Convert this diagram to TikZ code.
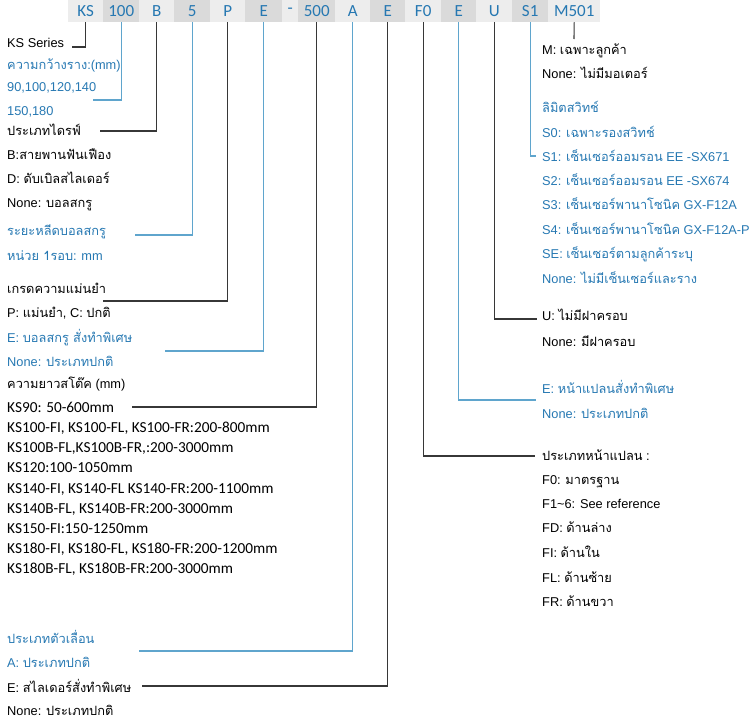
\documentclass[tikz,border=0pt]{standalone}
\usepackage{fontspec}
\setmainfont{Carlito}
\newfontfamily\thaifont[Script=Thai]{Loma}
\newfontfamily\arialfont{Liberation Sans}
\usetikzlibrary{positioning}
\definecolor{codeblue}{RGB}{38,120,178}
\definecolor{lineblue}{RGB}{95,165,205}
\definecolor{linegrey}{RGB}{55,55,55}
\definecolor{cellpale}{RGB}{237,237,237}
\definecolor{celldark}{RGB}{218,218,218}
\newcommand{\tha}[1]{{\thaifont #1}}
\tikzset{
  cell/.style={anchor=north west, minimum height=22pt, inner sep=0pt, font=\fontsize{17}{19}\selectfont, text=codeblue},
  lab/.style={anchor=base west, inner sep=0pt, font=\arialfont\fontsize{12.8}{15}\selectfont, text=black},
  labb/.style={lab, text=codeblue},
  lenlab/.style={anchor=base west, inner sep=0pt, font=\fontsize{15.3}{18}\selectfont, text=black},
  lead/.style={draw=linegrey, line width=1.1pt},
  leadb/.style={draw=lineblue, line width=1.1pt},
}

\begin{document}
\begin{tikzpicture}[x=1pt,y=-1pt]
  \useasboundingbox (0,0) rectangle (750,723);
  % code bar
  \foreach \nm/\code/\xa/\w/\shade in {ks/KS/68/35/cellpale, wid/100/103/36/celldark, drv/B/139/35/cellpale,
      ld/5/174/36/celldark, grd/P/210/35/cellpale, bs/E/245/37/celldark, dsh/-/282/16/cellpale,
      str/500/298/37/celldark, sld/A/335/35/cellpale, spc/E/370/35/celldark, fln/F0/405/36/cellpale,
      fle/E/441/35/celldark, cov/U/476/36/cellpale, sw/S1/512/36/celldark, mot/M501/548/52/cellpale}
    \node[cell, fill=\shade, minimum width=\w pt] (h\nm) at (\xa,0) {\code};

  % left column
  \node[lab]  (kss)  at (7,47)  {KS Series};
  \node[labb] (widt) at (7,69)  {\tha{ความกว้างราง}:(mm)};
  \node[labb] (wida) at (7,91)  {90,100,120,140};
  \node[labb] (widb) at (7,115) {150,180};
  \node[lab]  (drvt) at (7,135) {\tha{ประเภทไดรฟ์}};
  \node[lab]  (drvb) at (7,159) {B:\tha{สายพานฟันเฟือง}};
  \node[lab]  (drvd) at (7,183) {D: \tha{ดับเบิลสไลเดอร์}};
  \node[lab]  (drvn) at (7,207) {None: \tha{บอลสกรู}};
  \node[labb] (ldt)  at (7,235) {\tha{ระยะหลีดบอลสกรู}};
  \node[labb] (ldu)  at (7,260) {\tha{หน่วย 1รอบ}: mm};
  \node[lab]  (grdt) at (7,293) {\tha{เกรดความแม่นยำ}};
  \node[lab]  (grdp) at (7,317) {P: \tha{แม่นยำ}, C: \tha{ปกติ}};
  \node[labb] (bse)  at (7,342) {E: \tha{บอลสกรู สั่งทำพิเศษ}};
  \node[labb] (bsn)  at (7,366) {None: \tha{ประเภทปกติ}};
  \node[lab]  (strt) at (7,388) {\tha{ความยาวสโต๊ค} (mm)};
  \node[lenlab] (str1) at (7,412) {KS90: 50-600mm};
  \node[lenlab] (str2) at (7,432) {KS100-FI, KS100-FL, KS100-FR:200-800mm};
  \node[lenlab] (str3) at (7,452) {KS100B-FL,KS100B-FR,:200-3000mm};
  \node[lenlab] (str4) at (7,472) {KS120:100-1050mm};
  \node[lenlab] (str5) at (7,493) {KS140-FI, KS140-FL KS140-FR:200-1100mm};
  \node[lenlab] (str6) at (7,513) {KS140B-FL, KS140B-FR:200-3000mm};
  \node[lenlab] (str7) at (7,533) {KS150-FI:150-1250mm};
  \node[lenlab] (str8) at (7,553) {KS180-FI, KS180-FL, KS180-FR:200-1200mm};
  \node[lenlab] (str9) at (7,573) {KS180B-FL, KS180B-FR:200-3000mm};
  \node[labb] (sldt) at (7,643) {\tha{ประเภทตัวเลื่อน}};
  \node[labb] (slda) at (7,667) {A: \tha{ประเภทปกติ}};
  \node[lab]  (spce) at (7,692) {E: \tha{สไลเดอร์สั่งทำพิเศษ}};
  \node[lab]  (spcn) at (7,715) {None: \tha{ประเภทปกติ}};

  % right column
  \node[lab]  (motm) at (542,54)  {M: \tha{เฉพาะลูกค้า}};
  \node[lab]  (motn) at (542,78)  {None: \tha{ไม่มีมอเตอร์}};
  \node[labb] (swt)  at (542,112) {\tha{ลิมิตสวิทช์}};
  \node[labb] (sw0)  at (542,137) {S0: \tha{เฉพาะรองสวิทช์}};
  \node[labb] (sw1)  at (542,161) {S1: \tha{เซ็นเซอร์ออมรอน} EE -SX671};
  \node[labb] (sw2)  at (542,185) {S2: \tha{เซ็นเซอร์ออมรอน} EE -SX674};
  \node[labb] (sw3)  at (542,209) {S3: \tha{เซ็นเซอร์พานาโซนิค} GX-F12A};
  \node[labb] (sw4)  at (542,234) {S4: \tha{เซ็นเซอร์พานาโซนิค} GX-F12A-P};
  \node[labb] (swe)  at (542,258) {SE: \tha{เซ็นเซอร์ตามลูกค้าระบุ}};
  \node[labb] (swn)  at (542,283) {None: \tha{ไม่มีเซ็นเซอร์และราง}};
  \node[lab]  (covu) at (542,320) {U: \tha{ไม่มีฝาครอบ}};
  \node[lab]  (covn) at (542,346) {None: \tha{มีฝาครอบ}};
  \node[labb] (flee) at (542,393) {E: \tha{หน้าแปลนสั่งทำพิเศษ}};
  \node[labb] (flen) at (542,418) {None: \tha{ประเภทปกติ}};
  \node[lab]  (flnt) at (542,460) {\tha{ประเภทหน้าแปลน} :};
  \node[lab]  (fln0) at (542,484) {F0: \tha{มาตรฐาน}};
  \node[lab]  (fln1) at (542,508) {F1\textasciitilde6: See reference};
  \node[lab]  (flnd) at (542,532) {FD: \tha{ด้านล่าง}};
  \node[lab]  (flni) at (542,557) {FI: \tha{ด้านใน}};
  \node[lab]  (flnl) at (542,582) {FL: \tha{ด้านซ้าย}};
  \node[lab]  (flnr) at (542,606) {FR: \tha{ด้านขวา}};

  % leader ends
  \coordinate (eks)  at (72,47);
  \coordinate (ewid) at (93,100);
  \coordinate (edrv) at (100,131);
  \coordinate (eld)  at (135,235);
  \coordinate (egrd) at (103,301);
  \coordinate (ebs)  at (165,351);
  \coordinate (estr) at (132,407);
  \coordinate (esld) at (139,651);
  \coordinate (espc) at (142,686);
  \coordinate (efln) at (535,456);
  \coordinate (efle) at (536,400);
  \coordinate (ecov) at (537,319);
  \coordinate (esw)  at (536,156);
  \coordinate (emot) at (574,39);

  \draw[lead]  (hks.south)  |- (eks);
  \draw[leadb] (hwid.south) |- (ewid);
  \draw[lead]  (hdrv.south) |- (edrv);
  \draw[leadb] (hld.south)  |- (eld);
  \draw[lead]  (hgrd.south) |- (egrd);
  \draw[leadb] (hbs.south)  |- (ebs);
  \draw[lead]  (hstr.south) |- (estr);
  \draw[leadb] (hsld.south) |- (esld);
  \draw[lead]  (hspc.south) |- (espc);
  \draw[lead]  (hfln.south) |- (efln);
  \draw[leadb] (hfle.south) |- (efle);
  \draw[lead]  (hcov.south) |- (ecov);
  \draw[leadb] (hsw.south)  |- (esw);
  \draw[lead]  (hmot.south) -- (emot);
\end{tikzpicture}
\end{document}
